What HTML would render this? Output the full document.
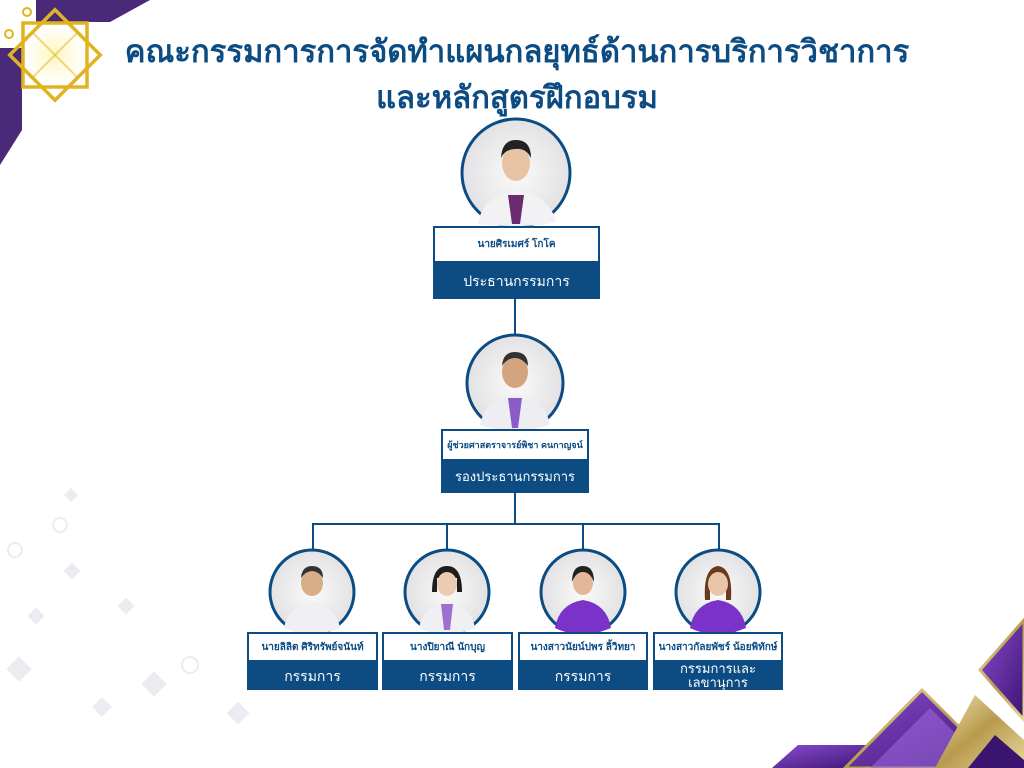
<!DOCTYPE html>
<html><head><meta charset="utf-8"><style>
body{margin:0;width:1024px;height:768px;overflow:hidden;background:#fff;font-family:"Liberation Sans","Noto Sans CJK SC",sans-serif;position:relative}
.t{position:absolute;left:0;width:1034px;text-align:center;color:#0c4c82;font-weight:bold;font-size:31px;white-space:nowrap}
.nm{position:absolute;background:#fff;border:2px solid #0c4c82;box-sizing:border-box;color:#0c4c82;font-weight:bold;font-size:10px;display:flex;align-items:center;justify-content:center;white-space:nowrap}
.rl{position:absolute;background:#0c4c82;color:#fff;font-size:13px;display:flex;align-items:center;justify-content:center;text-align:center;line-height:14px}
svg{position:absolute;left:0;top:0}
</style></head><body>
<svg width="1024" height="768">
<defs>
<linearGradient id="pg" x1="0" y1="0" x2="1" y2="1"><stop offset="0" stop-color="#8a4bd0"/><stop offset="1" stop-color="#3b1470"/></linearGradient>
<linearGradient id="gg" x1="0" y1="0" x2="1" y2="1"><stop offset="0" stop-color="#f3e6b0"/><stop offset=".5" stop-color="#b89a4e"/><stop offset="1" stop-color="#e8d89a"/></linearGradient>
<radialGradient id="bg"><stop offset="0" stop-color="#fafafa"/><stop offset="1" stop-color="#e2e2e4"/></radialGradient>
<radialGradient id="gl"><stop offset="0" stop-color="#fff6c0"/><stop offset="1" stop-color="#fff6c0" stop-opacity="0"/></radialGradient>
</defs>
<polygon points="36,0 150,0 110,22 36,22" fill="#4a2a78"/>
<polygon points="0,48 22,48 22,130 0,165" fill="#4a2a78"/>
<circle cx="55" cy="55" r="30" fill="url(#gl)"/>
<g fill="none" stroke="#e0b420" stroke-width="3.5">
<rect x="23" y="23" width="64" height="64"/>
<rect x="23" y="23" width="64" height="64" transform="rotate(45 55 55)"/>
<line x1="33" y1="33" x2="77" y2="77" stroke-width="2" opacity=".5"/>
<line x1="77" y1="33" x2="33" y2="77" stroke-width="2" opacity=".5"/>
</g>
<circle cx="27" cy="12" r="4" fill="none" stroke="#e0b420" stroke-width="2"/>
<circle cx="9" cy="34" r="4" fill="none" stroke="#e0b420" stroke-width="2"/>
<g fill="#e6e8f0" opacity=".8">
<rect x="66" y="490" width="10" height="10" transform="rotate(45 71 495)"/>
<rect x="66" y="565" width="12" height="12" transform="rotate(45 72 571)"/>
<rect x="10" y="660" width="18" height="18" transform="rotate(45 19 669)"/>
<rect x="145" y="675" width="18" height="18" transform="rotate(45 154 684)"/>
<rect x="230" y="705" width="16" height="16" transform="rotate(45 238 713)"/>
<rect x="95" y="700" width="14" height="14" transform="rotate(45 102 707)"/>
<circle cx="60" cy="525" r="7" fill="none" stroke="#e6e8f0" stroke-width="2"/>
<circle cx="15" cy="550" r="7" fill="none" stroke="#e6e8f0" stroke-width="2"/>
<circle cx="190" cy="665" r="8" fill="none" stroke="#e6e8f0" stroke-width="2"/>
<rect x="120" y="600" width="12" height="12" transform="rotate(45 126 606)"/>
<rect x="30" y="610" width="12" height="12" transform="rotate(45 36 616)"/>
</g>
<polygon points="798,745 880,745 870,768 772,768" fill="url(#pg)"/>
<polygon points="845,768 922,690 1000,768" fill="url(#pg)" stroke="url(#gg)" stroke-width="3"/>
<polygon points="870,768 930,708 990,768" fill="#9a66d8" opacity=".6"/>
<polygon points="935,768 975,695 1024,740 1024,768" fill="url(#gg)"/>
<polygon points="968,768 995,735 1024,760 1024,768" fill="#3b1470"/>
<polygon points="980,670 1024,620 1024,720" fill="url(#pg)" stroke="url(#gg)" stroke-width="3"/>
<g stroke="#0c4c82" stroke-width="2" fill="none">
<line x1="515" y1="299" x2="515" y2="336"/>
<line x1="515" y1="493" x2="515" y2="524"/>
<polyline points="313,552 313,524 719,524 719,552"/>
<line x1="447" y1="524" x2="447" y2="552"/>
<line x1="583" y1="524" x2="583" y2="552"/>
</g>
<g>
<circle cx="516" cy="173" r="54" fill="url(#bg)" stroke="#0c4c82" stroke-width="3"/>
<path d="M478 224 Q482 196 516 190 Q550 196 556 222 Q540 226 516 226 Q492 226 478 224Z" fill="#f2f2f4"/>
<path d="M508 195 L524 195 L520 224 L512 224Z" fill="#6a2b70"/>
<ellipse cx="516" cy="163" rx="14" ry="18" fill="#e8c4a4"/>
<path d="M501 158 Q502 140 516 140 Q531 140 531 158 Q526 148 516 149 Q505 149 501 158Z" fill="#222"/>
</g>
<circle cx="515" cy="383" r="48" fill="url(#bg)" stroke="#0c4c82" stroke-width="3"/>
<path d="M480 425 Q484 400 515 395 Q546 400 550 425 Q530 431 515 431 Q498 431 480 425Z" fill="#eeeef2"/>
<path d="M508 398 L522 398 L518 428 L512 428Z" fill="#8b5cc8"/>
<ellipse cx="515" cy="372" rx="13" ry="16" fill="#d4a47e"/>
<path d="M502 366 Q503 352 515 352 Q528 352 528 366 Q522 358 515 358 Q507 358 502 366Z" fill="#333"/>
<g>
<circle cx="312" cy="592" r="42" fill="url(#bg)" stroke="#0c4c82" stroke-width="3"/>
<path d="M284 628 Q288 606 312 602 Q336 606 340 628 Q326 634 312 634 Q296 634 284 628Z" fill="#f0f0f3"/>
<ellipse cx="312" cy="583" rx="11" ry="13" fill="#d8ad88"/>
<path d="M301 578 Q302 566 312 566 Q323 566 323 578 Q318 571 312 571 Q306 571 301 578Z" fill="#333"/>
</g>
<g>
<circle cx="447" cy="592" r="42" fill="url(#bg)" stroke="#0c4c82" stroke-width="3"/>
<path d="M419 628 Q423 606 447 602 Q471 606 475 628 Q461 634 447 634 Q431 634 419 628Z" fill="#f0f0f3"/>
<path d="M441 604 L453 604 L450 630 L444 630Z" fill="#a070d0"/>
<path d="M432 592 Q432 566 447 566 Q462 566 462 592 L457 592 L457 578 L437 578 L437 592Z" fill="#1e1e1e"/>
<ellipse cx="447" cy="584" rx="10" ry="12" fill="#eccbb2"/>
</g>
<g>
<circle cx="583" cy="592" r="42" fill="url(#bg)" stroke="#0c4c82" stroke-width="3"/>
<path d="M555 628 Q559 604 583 600 Q607 604 611 628 Q597 634 583 634 Q567 634 555 628Z" fill="#7a32c8"/>
<ellipse cx="583" cy="583" rx="10" ry="12" fill="#e2b898"/>
<path d="M572 582 Q572 566 583 566 Q594 566 594 582 Q590 572 583 572 Q576 572 572 582Z" fill="#222"/>
</g>
<g>
<circle cx="718" cy="592" r="42" fill="url(#bg)" stroke="#0c4c82" stroke-width="3"/>
<path d="M690 628 Q694 604 718 600 Q742 604 746 628 Q732 634 718 634 Q702 634 690 628Z" fill="#7a32c8"/>
<path d="M705 600 Q703 568 718 566 Q733 568 731 600 L726 600 L726 578 L710 578 L710 600Z" fill="#6b3a1e"/>
<ellipse cx="718" cy="584" rx="10" ry="12" fill="#eac6a8"/>
</g>
</svg>
<div class="t" style="top:26px">คณะกรรมการการจัดทำแผนกลยุทธ์ด้านการบริการวิชาการ</div>
<div class="t" style="top:72px">และหลักสูตรฝึกอบรม</div>

<div class="nm" style="left:433px;top:226px;width:167px;height:37px">นายศิรเมศร์ โกโค</div>
<div class="rl" style="left:433px;top:262px;width:167px;height:37px;font-size:14px">ประธานกรรมการ</div>

<div class="nm" style="left:441px;top:429px;width:148px;height:32px;font-size:9px">ผู้ช่วยศาสตราจารย์พิชา คนกาญจน์</div>
<div class="rl" style="left:441px;top:460px;width:148px;height:33px">รองประธานกรรมการ</div>

<div class="nm" style="left:247px;top:632px;width:131px;height:30px">นายลิลิต ศิริทรัพย์จนันท์</div>
<div class="rl" style="left:247px;top:661px;width:131px;height:29px;font-size:14px">กรรมการ</div>
<div class="nm" style="left:382px;top:632px;width:131px;height:30px">นางปิยาณี นักบุญ</div>
<div class="rl" style="left:382px;top:661px;width:131px;height:29px;font-size:14px">กรรมการ</div>
<div class="nm" style="left:518px;top:632px;width:130px;height:30px">นางสาวนัยน์ปพร ลิ้วิทยา</div>
<div class="rl" style="left:518px;top:661px;width:130px;height:29px;font-size:14px">กรรมการ</div>
<div class="nm" style="left:653px;top:632px;width:130px;height:30px">นางสาวกัลยพัชร์ น้อยพิทักษ์</div>
<div class="rl" style="left:653px;top:661px;width:130px;height:29px">กรรมการและ<br>เลขานุการ</div>
</body></html>
